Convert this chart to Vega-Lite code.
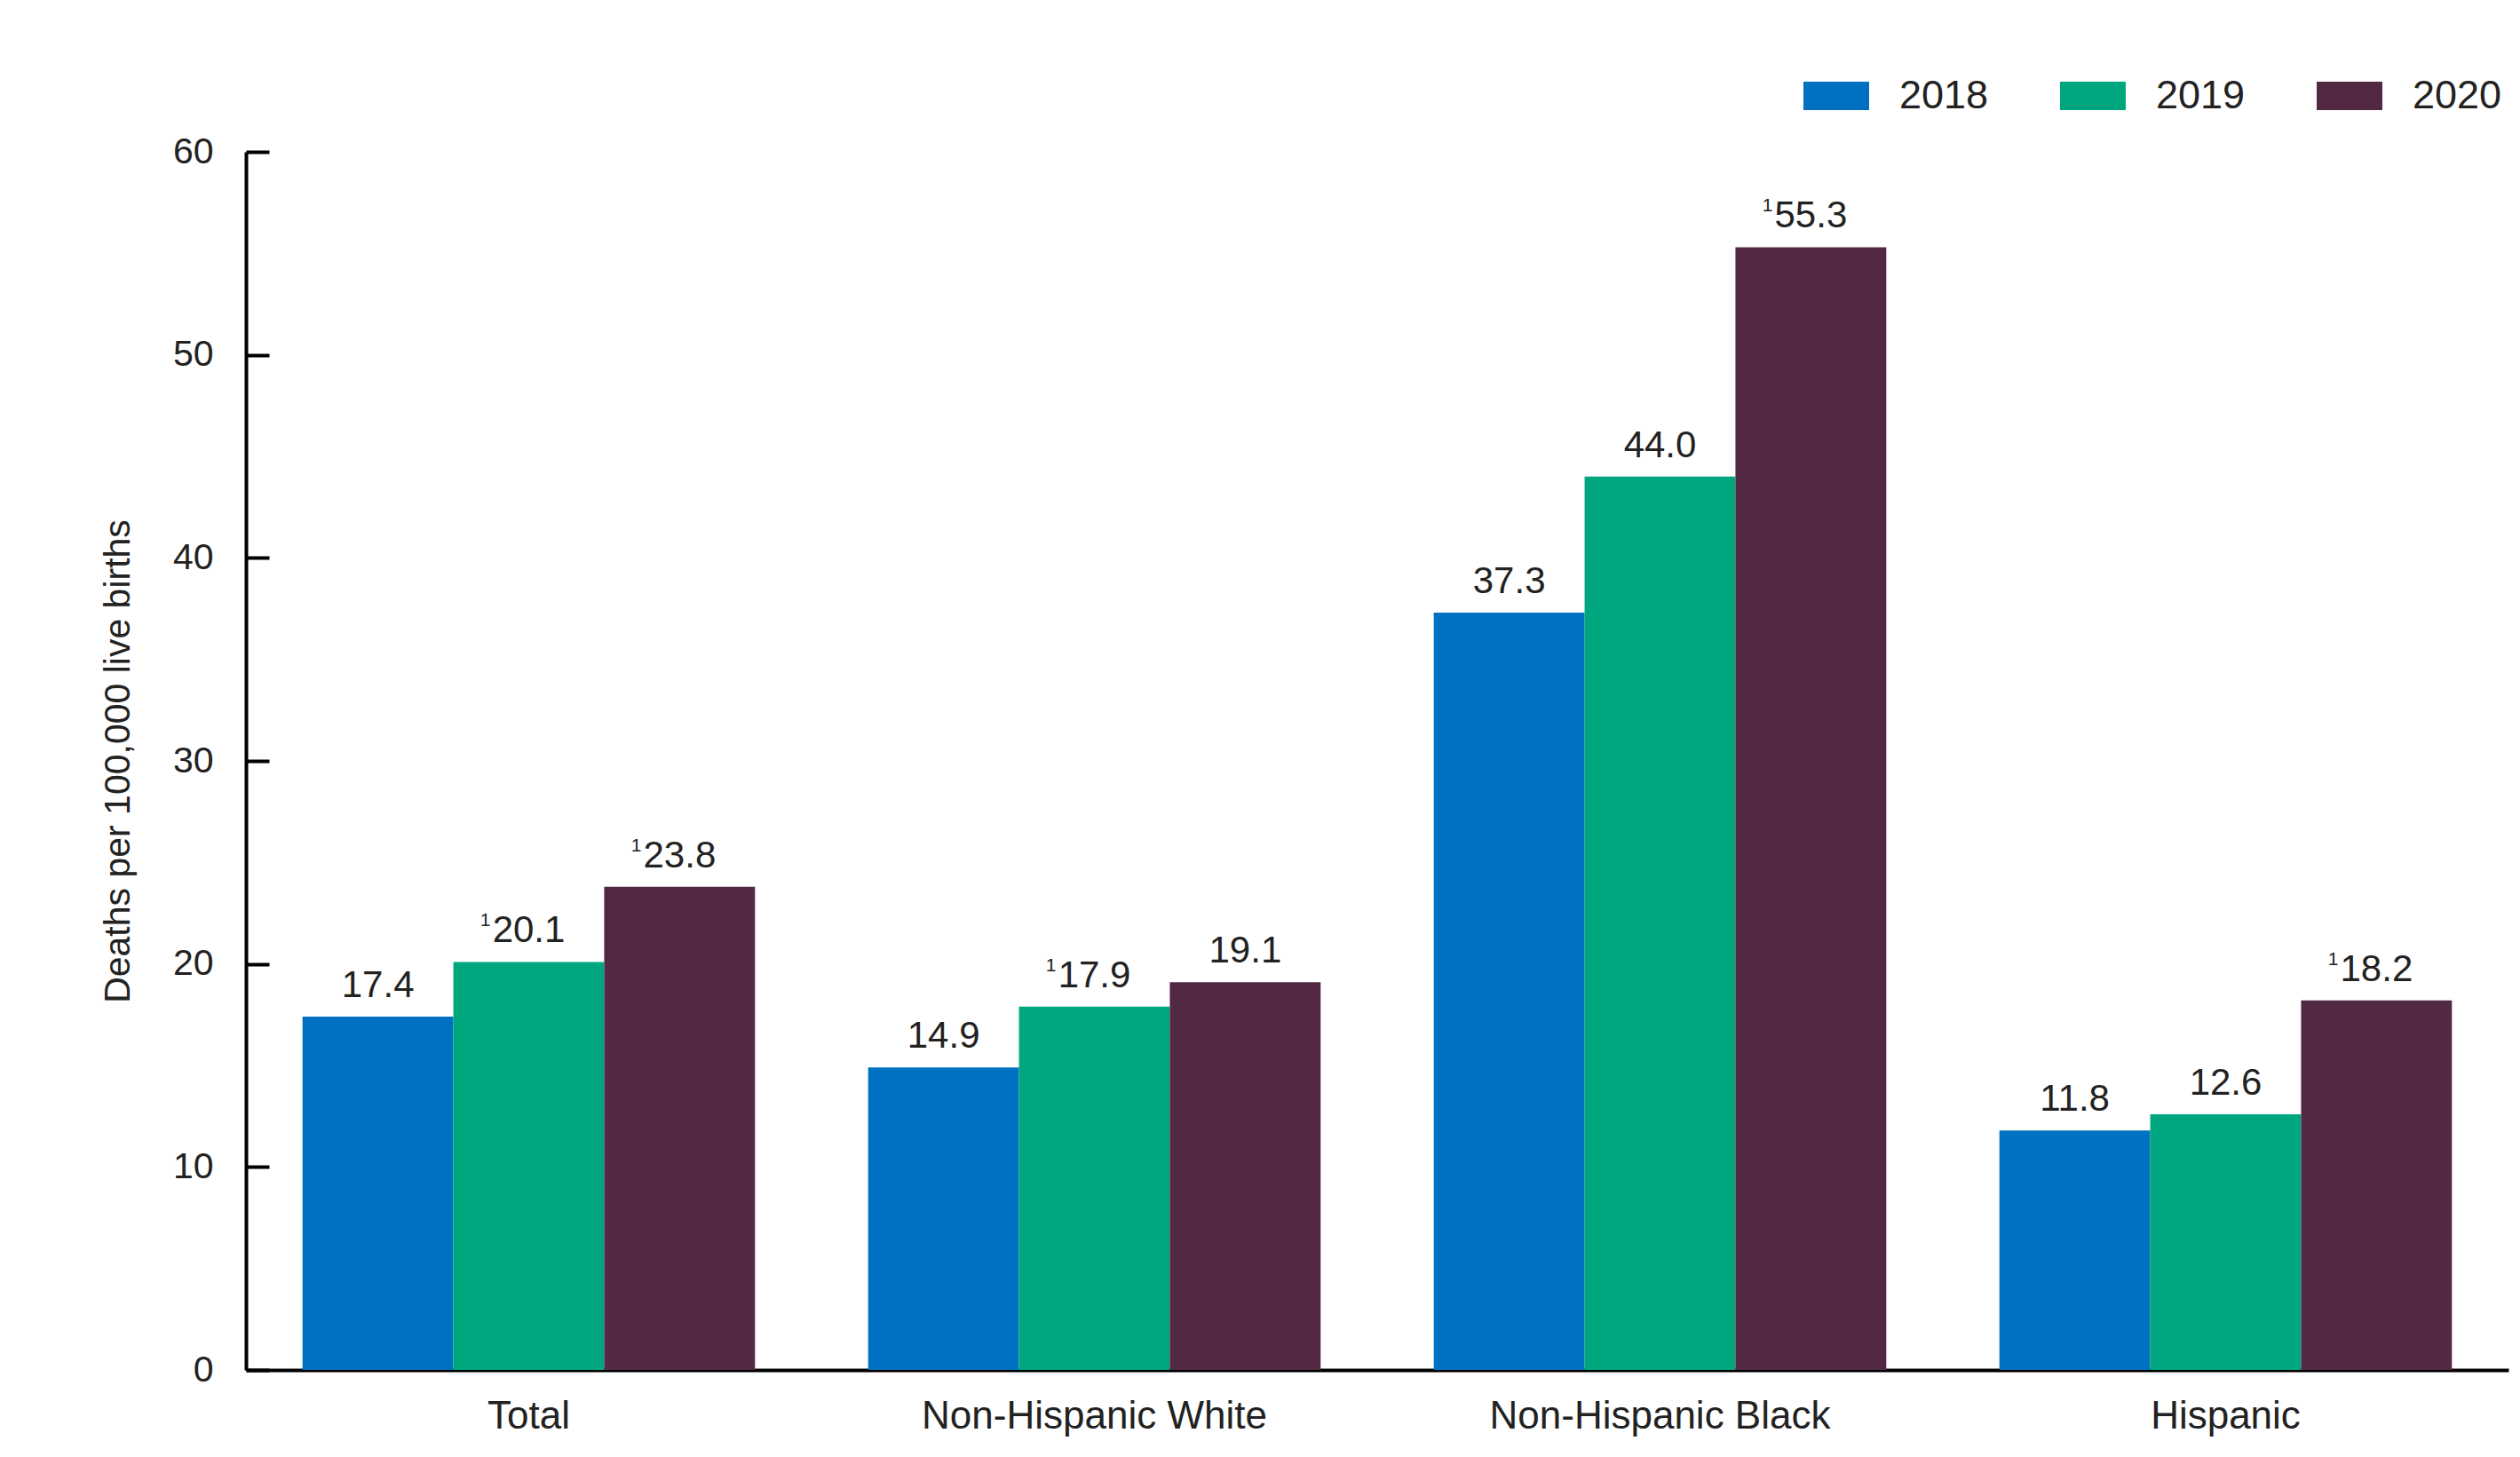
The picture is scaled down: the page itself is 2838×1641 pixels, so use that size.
{
  "$schema": "https://vega.github.io/schema/vega-lite/v6.json",
  "autosize": {"type": "none"},
  "padding": {"left": 277, "top": 171, "right": 13, "bottom": 98},
  "width": 2548,
  "height": 1372,
  "background": "white",
  "config": {
    "font": "Liberation Sans",
    "view": {"stroke": null},
    "axis": {"labelColor": "#222222", "titleColor": "#222222", "labelFont": "Liberation Sans", "titleFont": "Liberation Sans"}
  },
  "data": {
    "values": [
      {"group": "Total", "year": "2018", "value": 17.4, "sup": ""},
      {"group": "Total", "year": "2019", "value": 20.1, "sup": "1"},
      {"group": "Total", "year": "2020", "value": 23.8, "sup": "1"},
      {"group": "Non-Hispanic White", "year": "2018", "value": 14.9, "sup": ""},
      {"group": "Non-Hispanic White", "year": "2019", "value": 17.9, "sup": "1"},
      {"group": "Non-Hispanic White", "year": "2020", "value": 19.1, "sup": ""},
      {"group": "Non-Hispanic Black", "year": "2018", "value": 37.3, "sup": ""},
      {"group": "Non-Hispanic Black", "year": "2019", "value": 44.0, "sup": ""},
      {"group": "Non-Hispanic Black", "year": "2020", "value": 55.3, "sup": "1"},
      {"group": "Hispanic", "year": "2018", "value": 11.8, "sup": ""},
      {"group": "Hispanic", "year": "2019", "value": 12.6, "sup": ""},
      {"group": "Hispanic", "year": "2020", "value": 18.2, "sup": "1"}
    ]
  },
  "encoding": {
    "x": {
      "field": "group",
      "type": "nominal",
      "sort": ["Total", "Non-Hispanic White", "Non-Hispanic Black", "Hispanic"],
      "scale": {"paddingInner": 0.2, "paddingOuter": 0.1},
      "axis": {
        "title": null,
        "labelAngle": 0,
        "labelLimit": 0,
        "ticks": false,
        "domainColor": "#000000",
        "domainWidth": 4,
        "labelFontSize": 44,
        "labelPadding": 30,
        "labelColor": "#222222"
      }
    },
    "xOffset": {
      "field": "year",
      "type": "nominal",
      "scale": {"paddingInner": 0, "paddingOuter": 0}
    },
    "y": {
      "field": "value",
      "type": "quantitative",
      "scale": {"domain": [0, 60], "nice": false},
      "axis": {
        "title": "Deaths per 100,000 live births",
        "titleFontSize": 41,
        "titleFontWeight": "normal",
        "titlePadding": 40,
        "values": [0, 10, 20, 30, 40, 50, 60],
        "format": "d",
        "grid": false,
        "domainColor": "#000000",
        "domainWidth": 4,
        "tickColor": "#000000",
        "tickWidth": 4,
        "tickSize": -26,
        "labelPadding": 63,
        "labelFontSize": 41
      }
    }
  },
  "layer": [
    {
      "mark": {"type": "bar"},
      "encoding": {
        "color": {
          "field": "year",
          "type": "nominal",
          "scale": {"domain": ["2018", "2019", "2020"], "range": ["#0070C0", "#00A67E", "#532843"]},
          "legend": {
            "title": null,
            "orient": "none",
            "direction": "horizontal",
            "legendX": 1754,
            "legendY": -100,
            "symbolType": "M-1,-0.432H1V0.432H-1Z",
            "symbolSize": 5476,
            "symbolStrokeWidth": 0,
            "symbolOpacity": 1,
            "labelFontSize": 45,
            "labelColor": "#222222",
            "labelOffset": 34,
            "columnPadding": 80
          }
        }
      }
    },
    {
      "mark": {"type": "text", "baseline": "alphabetic", "dy": -22, "fontSize": 42, "color": "#222222"},
      "encoding": {
        "text": {"field": "value", "type": "quantitative", "format": ".1f"}
      }
    },
    {
      "transform": [{"filter": "datum.sup == '1'"}],
      "mark": {"type": "text", "baseline": "alphabetic", "align": "right", "dx": -43, "dy": -40, "fontSize": 21, "color": "#222222"},
      "encoding": {
        "text": {"field": "sup", "type": "nominal"}
      }
    }
  ]
}
